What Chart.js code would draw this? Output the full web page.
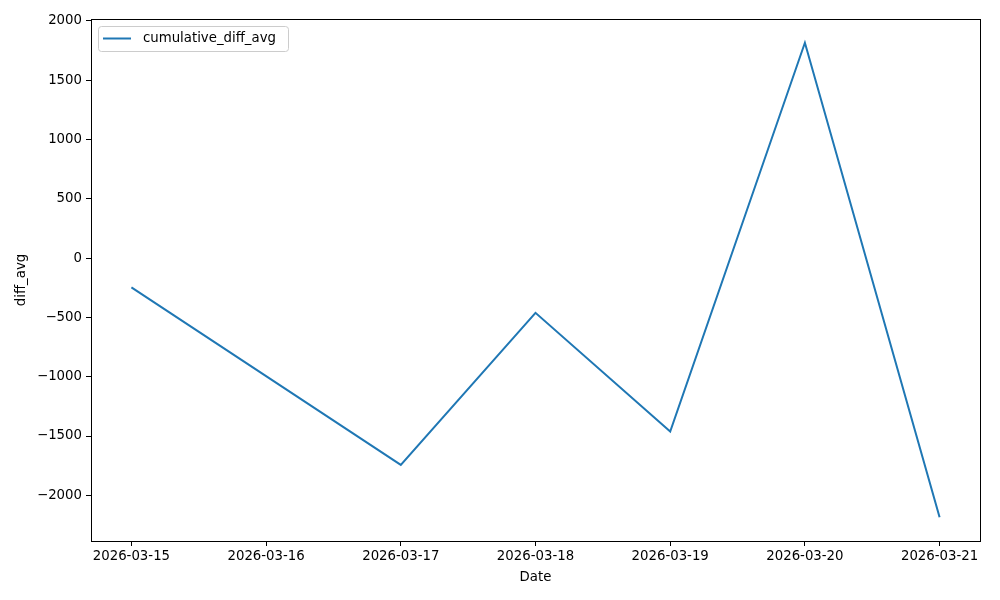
<!DOCTYPE html>
<html>
<head>
<meta charset="utf-8">
<script src="https://cdn.jsdelivr.net/npm/chart.js@4/dist/chart.umd.min.js"></script>
<style>
html,body{margin:0;padding:0;background:#fff;}
#wrap{width:1000px;height:600px;}
</style>
</head>
<body>
<div id="wrap"><canvas id="c" width="1000" height="600"></canvas></div>
<script>
const dateLabels = ['2026-03-15','2026-03-16','2026-03-17','2026-03-18','2026-03-19','2026-03-20','2026-03-21'];
const pointDayIndex = [0, 2, 3, 4, 5, 6];
const cumulativeDiffAvg = [-247, -1743, -462, -1462, 1815, -2185];
const yTickValues = [-2000, -1500, -1000, -500, 0, 500, 1000, 1500, 2000];
const seriesName = 'cumulative_diff_avg';
const lineColor = '#1f77b4';

const FONT = {family: 'DejaVu Sans', size: 13.3};

const boxPlugin = {
  id: 'box',
  afterDraw(chart) {
    const ctx = chart.ctx, a = chart.chartArea;
    ctx.save();
    ctx.strokeStyle = '#000';
    ctx.lineWidth = 1;
    ctx.strokeRect(Math.round(a.left) + 0.5, Math.round(a.top) + 0.5, Math.round(a.right - a.left), Math.round(a.bottom - a.top));
    // legend
    const ds = chart.data.datasets[0];
    const x0 = 98.5, y0 = 26.5, w = 190, h = 25;
    ctx.fillStyle = 'rgba(255,255,255,0.8)';
    ctx.strokeStyle = '#cccccc';
    ctx.lineWidth = 1;
    ctx.beginPath();
    const r = 3;
    ctx.moveTo(x0 + r, y0);
    ctx.arcTo(x0 + w, y0, x0 + w, y0 + h, r);
    ctx.arcTo(x0 + w, y0 + h, x0, y0 + h, r);
    ctx.arcTo(x0, y0 + h, x0, y0, r);
    ctx.arcTo(x0, y0, x0 + w, y0, r);
    ctx.closePath();
    ctx.fill();
    ctx.stroke();
    ctx.strokeStyle = ds.borderColor;
    ctx.lineWidth = 2;
    ctx.beginPath();
    ctx.moveTo(103, 38.5);
    ctx.lineTo(131, 38.5);
    ctx.stroke();
    ctx.fillStyle = '#000';
    ctx.font = FONT.size + 'px "DejaVu Sans"';
    ctx.textBaseline = 'middle';
    ctx.textAlign = 'left';
    ctx.fillText(ds.label, 143, 39);
    ctx.restore();
  }
};

new Chart(document.getElementById('c'), {
  type: 'line',
  data: {
    datasets: [{
      label: seriesName,
      data: pointDayIndex.map((d, i) => ({x: d, y: cumulativeDiffAvg[i]})),
      borderColor: lineColor,
      backgroundColor: lineColor,
      borderWidth: 2,
      pointRadius: 0,
      tension: 0,
      fill: false
    }]
  },
  options: {
    responsive: false,
    animation: false,
    devicePixelRatio: 1,
    layout: {padding: {left: 0, top: 19, right: 20, bottom: 0}},
    plugins: {legend: {display: false}, tooltip: {enabled: false}},
    scales: {
      x: {
        type: 'linear',
        min: -0.3,
        max: 6.3,
        afterBuildTicks(scale) { scale.ticks = dateLabels.map((_, i) => ({value: i})); },
        afterFit(scale) { scale.height = 59; },
        grid: {drawOnChartArea: false, drawTicks: true, tickLength: 5, color: '#000', tickColor: '#000'},
        border: {display: true, color: '#000', width: 1},
        ticks: {
          font: FONT, color: '#000', padding: 3, maxRotation: 0, autoSkip: false,
          callback: (v) => dateLabels[v]
        },
        title: {display: true, text: 'Date', font: FONT, color: '#000', padding: {top: 0, bottom: 14}}
      },
      y: {
        type: 'linear',
        min: -2385,
        max: 2015,
        afterBuildTicks(scale) { scale.ticks = yTickValues.map(v => ({value: v})); },
        afterFit(scale) { scale.width = 91; },
        grid: {drawOnChartArea: false, drawTicks: true, tickLength: 5, color: '#000', tickColor: '#000'},
        border: {display: true, color: '#000', width: 1},
        ticks: {
          font: FONT, color: '#000', padding: 4,
          callback: (v) => String(v).replace('-', '\u2212')
        },
        title: {display: true, text: 'diff_avg', font: FONT, color: '#000', padding: {top: 14, bottom: 0}}
      }
    }
  },
  plugins: [boxPlugin]
});
</script>
</body>
</html>
